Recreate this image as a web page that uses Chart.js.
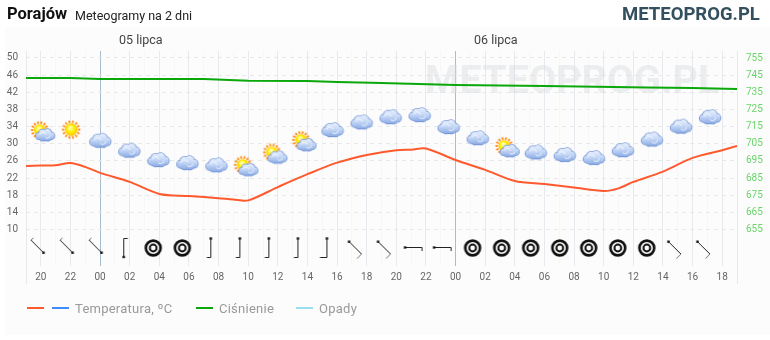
<!DOCTYPE html>
<html>
<head>
<meta charset="utf-8">
<title>Porajów</title>
<script src="https://cdn.jsdelivr.net/npm/chart.js@4"></script>
<style>
    html, body { margin: 0; padding: 0; background: #fff; }
    body { width: 770px; height: 340px; position: relative; overflow: hidden; font-family: Roboto, sans-serif; }
    #panel { position: absolute; left: 5px; top: 27px; width: 765px; height: 308px; background: #fcfcfc; }
    #chartBox { position: absolute; left: 0; top: 0; width: 770px; height: 340px; }
    .txt { position: absolute; white-space: nowrap; }
    #city { left: 7px; top: 4px; font-size: 16.5px; font-weight: 700; color: #111; }
    #sub { left: 75px; top: 8px; font-size: 12.5px; color: #222; }
    #brand { left: 622px; top: 3px; font-size: 18.5px; font-weight: 700; color: #34505f; }
    .day { top: 32px; font-size: 12.5px; color: #444; }
    .leg { top: 301px; font-size: 13px; color: #999; letter-spacing: 0.25px; }
    .dash { position: absolute; top: 307px; width: 17px; height: 2px; }
</style>
</head>
<body>
<div id="panel"></div>
<div id="chartBox"><canvas id="meteoChart" width="770" height="340"></canvas></div>
<div class="txt" id="city">Porajów</div>
<div class="txt" id="sub">Meteogramy na 2 dni</div>
<div class="txt" id="brand">METEOPROG.PL</div>
<div class="txt day" style="left:119px">05 lipca</div>
<div class="txt day" style="left:474px">06 lipca</div>
<div class="dash" style="left:27px;background:#ff5a2e"></div>
<div class="dash" style="left:52px;background:#3f8cff"></div>
<div class="txt leg" style="left:75px">Temperatura, ºC</div>
<div class="dash" style="left:196px;background:#0aa80a"></div>
<div class="txt leg" style="left:219px">Ciśnienie</div>
<div class="dash" style="left:296px;background:#9adcf0"></div>
<div class="txt leg" style="left:319px">Opady</div>
<script>
// Hours counted from the left edge of the chart (19:00)
const tempHours = [0, 1, 2, 3, 4, 5, 7, 9, 11, 13, 14, 15, 17, 19, 21, 23, 25, 26, 27, 29, 31, 33, 35, 37, 39, 40, 41, 43, 45, 47, 48];
const tempValues = [24.8, 24.9, 25.0, 25.5, 24.6, 23.2, 21.1, 18.3, 17.8, 17.3, 17.0, 16.8, 19.9, 22.9, 25.6, 27.4, 28.5, 28.6, 28.9, 26.2, 23.9, 21.3, 20.6, 19.8, 19.0, 19.6, 21.1, 23.5, 26.7, 28.5, 29.5];

const pressureHours = [0, 3, 5, 12, 15, 19, 21, 24, 29, 35, 42, 45, 48];
const pressureValues = [743.3, 743.3, 742.8, 742.8, 741.8, 741.6, 741.0, 740.4, 739.3, 738.7, 737.8, 737.5, 736.9];

// Cloud symbols
const iconHours = [1.09, 3.05, 5.01, 6.97, 8.93, 10.89, 12.85, 14.81, 16.77, 18.73, 20.69, 22.65, 24.61, 26.57, 28.53, 30.49, 32.45, 34.41, 36.37, 38.33, 40.29, 42.25, 44.21, 46.17];
const iconLevels = [32.5, 33.3, 30.7, 28.4, 26.2, 25.5, 25.0, 24.4, 27.3, 30.2, 33.2, 35.0, 36.2, 36.7, 33.9, 31.3, 28.8, 28.0, 27.4, 26.7, 28.5, 31.0, 34.0, 36.2];
const iconTypes = ['partly', 'sun', 'cloud', 'cloud', 'cloud', 'cloud', 'cloud', 'partly', 'partly', 'partly', 'cloud', 'cloud', 'cloud', 'cloud', 'cloud', 'cloud', 'partly', 'cloud', 'cloud', 'cloud', 'cloud', 'cloud', 'cloud', 'cloud'];

// Wind symbols
const windHours = [0.75, 2.71, 4.67, 6.63, 8.59, 10.55, 12.51, 14.47, 16.43, 18.39, 20.35, 22.31, 24.27, 26.23, 28.19, 30.15, 32.11, 34.07, 36.03, 37.99, 39.95, 41.91, 43.87, 45.83];
const windLevels = [5.7, 5.7, 5.7, 5.7, 5.7, 5.7, 5.7, 5.7, 5.7, 5.7, 5.7, 5.7, 5.7, 5.7, 5.7, 5.7, 5.7, 5.7, 5.7, 5.7, 5.7, 5.7, 5.7, 5.7];
const windTypes = ['se', 'se', 'se', 's', 'calm', 'calm', 'n', 'n', 'n', 'n', 'nn', 'nw', 'nw', 'w', 'w', 'calm', 'calm', 'calm', 'calm', 'calm', 'calm', 'calm', 'nw', 'nw'];

const hourTicks = [1, 3, 5, 7, 9, 11, 13, 15, 17, 19, 21, 23, 25, 27, 29, 31, 33, 35, 37, 39, 41, 43, 45, 47];
const hourLabels = ['20', '22', '00', '02', '04', '06', '08', '10', '12', '14', '16', '18', '20', '22', '00', '02', '04', '06', '08', '10', '12', '14', '16', '18'];
const midnightTicks = [5, 29];
const tempTicks = [10, 14, 18, 22, 26, 30, 34, 38, 42, 46, 50];
const pressureTicks = [655, 665, 675, 685, 695, 705, 715, 725, 735, 745, 755];

function makeCanvas(size) {
    const c = document.createElement('canvas');
    c.width = size;
    c.height = size;
    return c;
}

function drawSun(g, cx, cy, r) {
    g.strokeStyle = '#ff8a12';
    g.lineWidth = 1.8;
    for (let i = 0; i < 14; i++) {
        const a = i * Math.PI / 7;
        g.beginPath();
        g.moveTo(cx + Math.cos(a) * (r + 0.5), cy + Math.sin(a) * (r + 0.5));
        g.lineTo(cx + Math.cos(a) * (r + 3), cy + Math.sin(a) * (r + 3));
        g.stroke();
    }
    const grad = g.createRadialGradient(cx - 1, cy - 2, 1, cx, cy, r);
    grad.addColorStop(0, '#ffffb0');
    grad.addColorStop(0.5, '#fff200');
    grad.addColorStop(1, '#ffc400');
    g.fillStyle = grad;
    g.beginPath();
    g.arc(cx, cy, r, 0, Math.PI * 2);
    g.fill();
}

function drawCloud(g, cx, cy, s) {
    const blobs = [[-6.6, 1.2, 3.7], [-2.8, -1.8, 4.5], [2.4, -2.2, 4.7], [6.6, 0.8, 4.0], [-2.4, 2, 4.6], [2.6, 2, 4.6]];
    g.beginPath();
    blobs.forEach(b => {
        g.moveTo(cx + b[0] * s + b[2] * s, cy + b[1] * s);
        g.arc(cx + b[0] * s, cy + b[1] * s, b[2] * s, 0, Math.PI * 2);
    });
    g.strokeStyle = '#6f90d2';
    g.lineWidth = 1.5;
    g.stroke();
    const grad = g.createLinearGradient(0, cy - 7 * s, 0, cy + 7 * s);
    grad.addColorStop(0, '#e8f0fe');
    grad.addColorStop(0.45, '#c6d8f6');
    grad.addColorStop(1, '#86a8e4');
    g.fillStyle = grad;
    g.fill();
    // lobes inside the cloud
    g.strokeStyle = 'rgba(255, 255, 255, 0.8)';
    g.lineWidth = 1;
    g.beginPath();
    g.arc(cx - 2.6 * s, cy + 0.5 * s, 3.6 * s, Math.PI * 1.1, Math.PI * 1.9);
    g.moveTo(cx + 5.5 * s, cy + 0.5 * s);
    g.arc(cx + 2.4 * s, cy + 0.5 * s, 3.1 * s, 0, Math.PI * 0.8);
    g.stroke();
}

function makeIcon(type) {
    const c = makeCanvas(32);
    const g = c.getContext('2d');
    if (type === 'sun') drawSun(g, 16, 16, 6.2);
    if (type === 'cloud') drawCloud(g, 16, 16, 1);
    if (type === 'partly') {
        drawSun(g, 13.5, 13, 5.8);
        drawCloud(g, 19, 18, 0.88);
    }
    return c;
}

function makeWind(type) {
    const c = makeCanvas(32);
    const g = c.getContext('2d');
    g.fillStyle = '#111';
    // line from a to b with a dot on b and a short barb on a
    const glyph = (ax, ay, bx, by, tx, ty, barbColor) => {
        g.lineWidth = 1;
        g.strokeStyle = '#222';
        g.beginPath();
        g.moveTo(ax, ay);
        g.lineTo(bx, by);
        g.stroke();
        g.strokeStyle = barbColor;
        g.beginPath();
        g.moveTo(ax, ay);
        g.lineTo(tx, ty);
        g.stroke();
        g.fillRect(bx - 1.2, by - 1.2, 2.4, 2.4);
    };
    if (type === 'se') glyph(9.8, 8, 22.4, 20.7, 12.4, 6, '#777');
    if (type === 'nw') glyph(21, 22, 8.6, 9.7, 16.6, 26.7, '#777');
    if (type === 's') glyph(15.5, 6.5, 15.5, 25, 19.5, 6.5, '#222');
    if (type === 'n') glyph(15.5, 25.5, 15.5, 6.5, 11.5, 25.5, '#222');
    if (type === 'nn') glyph(15.5, 25.5, 15.5, 6.5, 8.5, 25.5, '#222');
    if (type === 'w') glyph(23.5, 15.5, 6.5, 15.5, 23.5, 19, '#222');
    if (type === 'calm') {
        g.strokeStyle = '#111';
        g.lineWidth = 2.6;
        g.beginPath();
        g.arc(16, 16, 7.4, 0, Math.PI * 2);
        g.stroke();
        g.lineWidth = 2;
        g.beginPath();
        g.arc(16, 16, 3.4, 0, Math.PI * 2);
        g.stroke();
    }
    return c;
}

const toPoints = (xs, ys) => xs.map((x, i) => ({ x: x, y: ys[i] }));

// Watermark and the two axis posts below the plot
const extrasPlugin = {
    id: 'extras',
    beforeDatasetsDraw(chart) {
        const g = chart.ctx;
        g.save();
        g.font = '700 39.5px Roboto, sans-serif';
        g.fillStyle = 'rgba(215, 220, 224, 0.45)';
        g.textBaseline = 'alphabetic';
        g.fillText('METEOPROG.PL', 425, 93);
        g.restore();
    },
    afterDraw(chart) {
        const g = chart.ctx;
        const area = chart.chartArea;
        g.save();
        g.strokeStyle = '#e6e9ee';
        g.lineWidth = 1;
        [area.left, area.right].forEach(x => {
            g.beginPath();
            g.moveTo(Math.round(x) + 0.5, area.bottom);
            g.lineTo(Math.round(x) + 0.5, 284);
            g.stroke();
        });
        g.restore();
    }
};

const tickFont = { family: 'Roboto, sans-serif', size: 10 };

new Chart(document.getElementById('meteoChart').getContext('2d'), {
    type: 'scatter',
    plugins: [extrasPlugin],
    data: {
        datasets: [
            {
                label: 'Ciśnienie',
                data: toPoints(pressureHours, pressureValues),
                yAxisID: 'yPressure',
                showLine: true,
                borderColor: '#0aa80a',
                borderWidth: 2,
                pointRadius: 0,
                tension: 0
            },
            {
                label: 'Temperatura, ºC',
                data: toPoints(tempHours, tempValues),
                yAxisID: 'y',
                showLine: true,
                borderColor: '#ff5a2e',
                borderWidth: 2,
                pointRadius: 0,
                tension: 0.3
            },
            {
                label: 'Pogoda',
                data: toPoints(iconHours, iconLevels),
                yAxisID: 'y',
                pointStyle: iconTypes.map(makeIcon),
                pointRadius: 16
            },
            {
                label: 'Wiatr',
                data: toPoints(windHours, windLevels),
                yAxisID: 'y',
                pointStyle: windTypes.map(makeWind),
                pointRadius: 16
            }
        ]
    },
    options: {
        responsive: false,
        animation: false,
        events: [],
        layout: { padding: { top: 51, bottom: 50, left: 0, right: 0 } },
        plugins: { legend: { display: false }, title: { display: false }, tooltip: { enabled: false } },
        scales: {
            x: {
                type: 'linear',
                min: 0,
                max: 48,
                afterBuildTicks(axis) {
                    axis.ticks = Array.from({ length: 49 }, (_, i) => ({ value: i }));
                },
                afterFit(axis) { axis.height = 24; },
                border: { display: false },
                grid: {
                    drawTicks: false,
                    color(ctx) {
                        const v = ctx.tick.value;
                        if (midnightTicks.includes(v)) return '#a9bccb';
                        if (hourTicks.includes(v)) return '#e6e9ee';
                        if (v === 0 || v === 48) return '#e6e9ee';
                        return '#f6f7f9';
                    }
                },
                ticks: {
                    autoSkip: false,
                    maxRotation: 0,
                    padding: 5,
                    color: '#666',
                    font: tickFont,
                    callback(value) {
                        const i = hourTicks.indexOf(value);
                        return i < 0 ? '' : hourLabels[i];
                    }
                }
            },
            y: {
                position: 'left',
                min: 1.49,
                max: 51.63,
                afterBuildTicks(axis) {
                    axis.ticks = tempTicks.map(v => ({ value: v }));
                },
                afterFit(axis) { axis.width = 26; },
                border: { display: false, dash: [4, 4] },
                grid: { drawTicks: false, color: '#e8e8e8' },
                ticks: { autoSkip: false, padding: 8, color: '#666', font: tickFont }
            },
            yPressure: {
                position: 'right',
                min: 633.7,
                max: 759.1,
                afterBuildTicks(axis) {
                    axis.ticks = pressureTicks.map(v => ({ value: v }));
                },
                afterFit(axis) { axis.width = 33; },
                border: { display: false },
                grid: { display: false },
                ticks: { autoSkip: false, padding: 1, color: '#69d469', font: tickFont }
            }
        }
    }
});
</script>
</body>
</html>
